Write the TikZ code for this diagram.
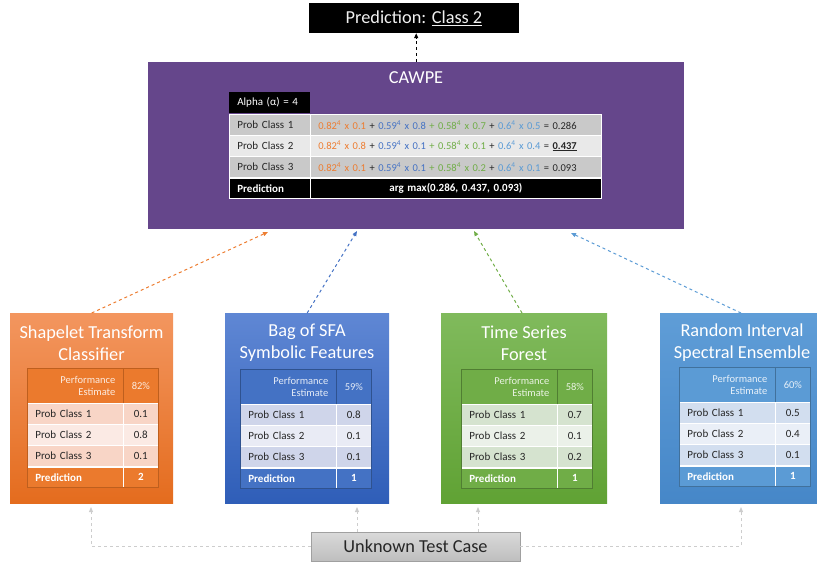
\documentclass[tikz,border=0pt]{standalone}
\usepackage{fontspec}
\setmainfont{Carlito}
\usetikzlibrary{arrows.meta}

\definecolor{ORtop}{RGB}{243,150,95}
\definecolor{ORbot}{RGB}{228,108,30}
\definecolor{ORacc}{RGB}{235,122,45}
\definecolor{ORborder}{RGB}{190,95,30}
\definecolor{ORrow}{RGB}{248,213,198}
\definecolor{ORrowB}{RGB}{251,234,228}
\definecolor{BLtop}{RGB}{95,135,212}
\definecolor{BLbot}{RGB}{47,94,184}
\definecolor{BLacc}{RGB}{68,114,196}
\definecolor{BLborder}{RGB}{47,82,143}
\definecolor{BLrow}{RGB}{207,213,234}
\definecolor{BLrowB}{RGB}{233,235,245}
\definecolor{GRtop}{RGB}{128,186,92}
\definecolor{GRbot}{RGB}{96,162,52}
\definecolor{GRacc}{RGB}{112,173,71}
\definecolor{GRborder}{RGB}{80,126,50}
\definecolor{GRrow}{RGB}{213,227,207}
\definecolor{GRrowB}{RGB}{235,241,233}
\definecolor{LBtop}{RGB}{95,157,215}
\definecolor{LBbot}{RGB}{70,135,200}
\definecolor{LBacc}{RGB}{91,155,213}
\definecolor{LBborder}{RGB}{65,113,156}
\definecolor{LBrow}{RGB}{210,222,239}
\definecolor{LBrowB}{RGB}{234,239,247}
\definecolor{cOR}{RGB}{237,125,49}
\definecolor{cBL}{RGB}{68,114,196}
\definecolor{cGR}{RGB}{112,173,71}
\definecolor{cLB}{RGB}{91,155,213}
\definecolor{cawpe}{RGB}{101,70,139}
\definecolor{cgA}{RGB}{201,201,201}
\definecolor{cgB}{RGB}{233,233,233}
\definecolor{feedgray}{RGB}{205,205,205}
\definecolor{utTop}{RGB}{218,218,218}
\definecolor{utBot}{RGB}{190,190,190}
\definecolor{utBorder}{RGB}{160,160,160}

\newcommand\ftitle{\fontsize{18.3}{22}\selectfont}
\newcommand\ftab{\fontsize{11}{13}\selectfont}
\newcommand\fform{\fontsize{10.5}{13}\selectfont}
\newcommand\fsmall{\fontsize{10.5}{12.5}\selectfont}
\newcommand\sq{\textsuperscript{4}}

\tikzset{
  cellbase/.style={rectangle, anchor=north west, inner ysep=0pt, inner xsep=8pt, line width=0.7pt},
  hdrL/.style={cellbase, text width=80pt, minimum height=35pt, align=right, font=\fsmall},
  hdrR/.style={cellbase, text width=19pt, minimum height=35pt, align=center, font=\fsmall},
  rowL/.style={cellbase, text width=80pt, minimum height=21pt, align=left, font=\ftab, text=black!85, draw=white},
  rowR/.style={cellbase, text width=19pt, minimum height=21pt, align=center, font=\ftab, text=black!85, draw=white},
  predL/.style={cellbase, text width=80pt, minimum height=20pt, align=left, font=\ftab\bfseries, text=white, draw=white},
  predR/.style={cellbase, text width=19pt, minimum height=20pt, align=center, font=\ftab\bfseries, text=white, draw=white},
  ctL/.style={cellbase, text width=65pt, minimum height=21pt, align=left, font=\ftab, text=black!85, draw=white},
  ctR/.style={cellbase, text width=275pt, minimum height=21pt, align=left, font=\fform, text=black!85, draw=white},
  panel/.style={rectangle, anchor=north west, inner sep=0pt},
  ptitle/.style={align=center, font=\ftitle, text=white, inner sep=0pt},
  toarr/.style={dashed, line width=1pt, -{Triangle[length=5pt,width=4pt]}},
  feed/.style={dashed, line width=0.9pt, draw=feedgray, -{Triangle[length=5pt,width=4pt]}},
}

% #1 prefix, #2 x, #3 y, #4 pct, #5 v1, #6 v2, #7 v3, #8 prediction
\newcommand{\clftab}[8]{%
  \node[hdrL, fill=#1acc, draw=#1border, text=white!85!#1acc] (#1h1) at (#2,#3) {Performance\\Estimate};
  \node[hdrR, fill=#1acc, draw=#1border, text=white!85!#1acc] (#1h2) at ({#2+96},#3) {#4};
  \node[rowL, fill=#1row] (#1r1L) at (#2,{#3+35}) {Prob Class 1};
  \node[rowR, fill=#1row] (#1r1R) at ({#2+96},{#3+35}) {#5};
  \node[rowL, fill=#1rowB] (#1r2L) at (#2,{#3+56}) {Prob Class 2};
  \node[rowR, fill=#1rowB] (#1r2R) at ({#2+96},{#3+56}) {#6};
  \node[rowL, fill=#1row] (#1r3L) at (#2,{#3+77}) {Prob Class 3};
  \node[rowR, fill=#1row] (#1r3R) at ({#2+96},{#3+77}) {#7};
  \node[predL, fill=#1acc] (#1pL) at (#2,{#3+99}) {Prediction};
  \node[predR, fill=#1acc] (#1pR) at ({#2+96},{#3+99}) {#8};
  \draw[white, line width=2pt] (#1pL.north west) -- (#1pR.north east);
  \draw[#1border, line width=0.8pt] (#1h1.north west) rectangle (#1pR.south east);
}

\begin{document}
\begin{tikzpicture}[x=1pt,y=-1pt]
\useasboundingbox (0,0) rectangle (817,564);

% top prediction box
\node[fill=black, text=white!94!black, font=\ftitle, minimum width=210pt, minimum height=30pt, inner sep=0pt] (final) at (414,18) {Prediction: \underline{Class 2}};

% CAWPE
\node[panel, fill=cawpe, minimum width=536pt, minimum height=167pt] (cawpe) at (148,62) {};
\node[font=\ftitle, text=white] (cawpeT) at (416,78) {CAWPE};
\draw[toarr, draw=black] (cawpe.north) -- (cawpe.north |- final.south);

\node[ctL, fill=black, text=white, draw=none] (alpha) at (229,92) {Alpha (α) = 4};
\node[ctL, fill=cgA] (c1L) at (229,114) {Prob Class 1};
\node[ctR, fill=cgA] (c1R) at (310,114) {\textcolor{cOR}{0.82\sq{} x 0.1} + \textcolor{cBL}{0.59\sq{} x 0.8} \textcolor{cGR}{+ 0.58\sq{} x 0.7} + \textcolor{cLB}{0.6\sq{} x 0.5} = 0.286};
\node[ctL, fill=cgB] (c2L) at (229,135) {Prob Class 2};
\node[ctR, fill=cgB] (c2R) at (310,135) {\textcolor{cOR}{0.82\sq{} x 0.8} + \textcolor{cBL}{0.59\sq{} x 0.1} \textcolor{cGR}{+ 0.58\sq{} x 0.1} + \textcolor{cLB}{0.6\sq{} x 0.4} = \underline{\textbf{0.437}}};
\node[ctL, fill=cgA] (c3L) at (229,156) {Prob Class 3};
\node[ctR, fill=cgA] (c3R) at (310,156) {\textcolor{cOR}{0.82\sq{} x 0.1} + \textcolor{cBL}{0.59\sq{} x 0.1} \textcolor{cGR}{+ 0.58\sq{} x 0.2} + \textcolor{cLB}{0.6\sq{} x 0.1} = 0.093};
\node[ctL, fill=black, text=white, font=\ftab\bfseries, minimum height=20pt] (cpL) at (229,178) {Prediction};
\node[ctR, fill=black, text=white, font=\ftab\bfseries, minimum height=20pt, align=center] (cpR) at (310,178) {arg max(0.286, 0.437, 0.093)};
\draw[white, line width=2pt] (cpL.north west) -- (cpR.north east);

% classifier panels
\node[panel, top color=ORtop, bottom color=ORbot, minimum width=163pt, minimum height=190pt] (stc) at (10,313) {};
\node[ptitle] (stcT) at (91.5,343) {Shapelet Transform\\Classifier};
\clftab{OR}{27}{368}{82\%}{0.1}{0.8}{0.1}{2}

\node[panel, top color=BLtop, bottom color=BLbot, minimum width=164pt, minimum height=190pt] (bsf) at (225,313) {};
\node[ptitle] (bsfT) at (307,343) {Bag of SFA\\Symbolic Features};
\clftab{BL}{240}{369}{59\%}{0.8}{0.1}{0.1}{1}

\node[panel, top color=GRtop, bottom color=GRbot, minimum width=166pt, minimum height=190pt] (tsf) at (441,313) {};
\node[ptitle] (tsfT) at (524,343) {Time Series\\Forest};
\clftab{GR}{461}{369}{58\%}{0.7}{0.1}{0.2}{1}

\node[panel, top color=LBtop, bottom color=LBbot, minimum width=157pt, minimum height=190pt] (rse) at (660,313) {};
\node[ptitle] (rseT) at (742,343) {Random Interval\\Spectral Ensemble};
\clftab{LB}{679}{367}{60\%}{0.5}{0.4}{0.1}{1}

% arrows to CAWPE
\coordinate (inS) at (268,232);
\coordinate (inB) at (357,231);
\coordinate (inG) at (474,231);
\coordinate (inL) at (571,233);
\coordinate (rseTop) at (741,313);
\coordinate (tsfTop) at (522,313);
\draw[toarr, draw=cOR] (stc.north) -- (inS);
\draw[toarr, draw=cBL] (bsf.north) -- (inB);
\draw[toarr, draw=cGR] (tsfTop) -- (inG);
\draw[toarr, draw=cLB] (rseTop) -- (inL);

% unknown test case
\node[top color=utTop, bottom color=utBot, draw=utBorder, line width=0.7pt, font=\ftitle, text=black!85, minimum width=209pt, minimum height=29pt, inner sep=0pt] (utc) at (415.5,546.5) {Unknown Test Case};
\coordinate (fS) at (91,507);
\coordinate (fB) at (357,507);
\coordinate (fG) at (478,507);
\coordinate (fL) at (741,507);
\draw[feed] (utc.west) -| (fS);
\draw[feed] (utc.north -| fB) -- (fB);
\draw[feed] (utc.north -| fG) -- (fG);
\draw[feed] (utc.east) -| (fL);
\end{tikzpicture}
\end{document}
